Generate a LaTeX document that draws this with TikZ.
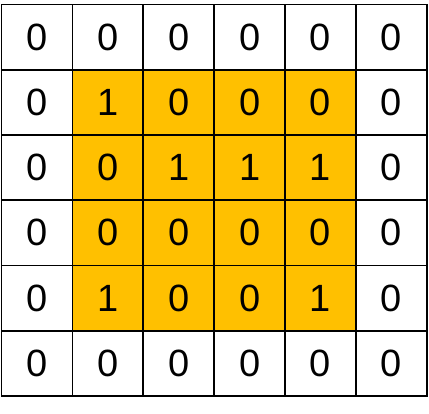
\documentclass[tikz,border=0pt]{standalone}
\usepackage{fontspec}
\setmainfont{Liberation Sans}
\definecolor{cellorange}{HTML}{FFC000}
\begin{document}
\begin{tikzpicture}[x=1pt,y=-1pt,
  cell/.style={draw=black,line width=1.8pt,minimum width=70.9pt,minimum height=65.25pt,inner sep=0pt,outer sep=0pt,anchor=center,font=\fontsize{38}{38}\selectfont},
  hot/.style={cell,fill=cellorange},
  cold/.style={cell,fill=white}]
\useasboundingbox[fill=white] (0,0) rectangle (429,414);
\def\vals{{{0,0,0,0,0,0},{0,1,0,0,0,0},{0,0,1,1,1,0},{0,0,0,0,0,0},{0,1,0,0,1,0},{0,0,0,0,0,0}}}
\foreach \r in {0,...,5}{
  \foreach \c in {0,...,5}{
    \pgfmathtruncatemacro{\v}{\vals[\r][\c]}
    \pgfmathtruncatemacro{\inner}{(\r>0)&&(\r<5)&&(\c>0)&&(\c<5)}
    \ifnum\inner=1
      \node[hot] (c-\r-\c) at ({1.5+70.9*(\c+0.5)},{4.5+65.25*(\r+0.5)}) {\raisebox{-2pt}{\v}};
    \else
      \node[cold] (c-\r-\c) at ({1.5+70.9*(\c+0.5)},{4.5+65.25*(\r+0.5)}) {\raisebox{-2pt}{\v}};
    \fi
  }
}
\end{tikzpicture}
\end{document}
